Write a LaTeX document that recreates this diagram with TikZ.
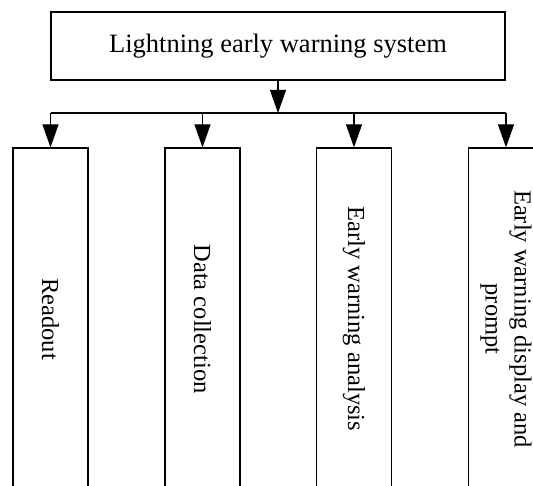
\documentclass[tikz,border=0pt]{standalone}
\usepackage{fontspec}
\setmainfont{Liberation Serif}
\usetikzlibrary{arrows.meta}
\tikzset{
  ln/.style={line width=1.2pt, draw=black},
  arr/.style={ln, -{Triangle[length=23pt,width=16pt]}},
  topbox/.style={ln, rectangle, inner sep=0pt, minimum width=454pt, minimum height=68pt,
    font=\fontsize{26.5}{30}\selectfont},
  sidebox/.style={ln, rectangle, inner sep=0pt, rotate=-90, minimum width=342pt, minimum height=75pt,
    align=center, font=\fontsize{24.5}{29}\selectfont}
}
\begin{document}
\begin{tikzpicture}[x=1pt,y=1pt]
\useasboundingbox (0,0) rectangle (533,486);
\begin{scope}
\clip (0,0) rectangle (533,486);
\node[topbox] (top) at (278,440) {Lightning early warning system};
\coordinate (jn) at (278,373);
\node[sidebox] (b1) at (50.5,167) {Readout};
\node[sidebox] (b2) at (202.5,167) {Data collection};
\node[sidebox] (b3) at (354,167) {Early warning analysis};
\node[sidebox] (b4) at (506,167) {Early warning display and\\prompt};
\draw[arr] (top.south) -- (jn);
\draw[ln] (b1.west |- jn) -- (b4.west |- jn);
\draw[arr] (b1.west |- jn) -- (b1.west);
\draw[arr] (b2.west |- jn) -- (b2.west);
\draw[arr] (b3.west |- jn) -- (b3.west);
\draw[arr] (b4.west |- jn) -- (b4.west);
\end{scope}
\end{tikzpicture}
\end{document}
